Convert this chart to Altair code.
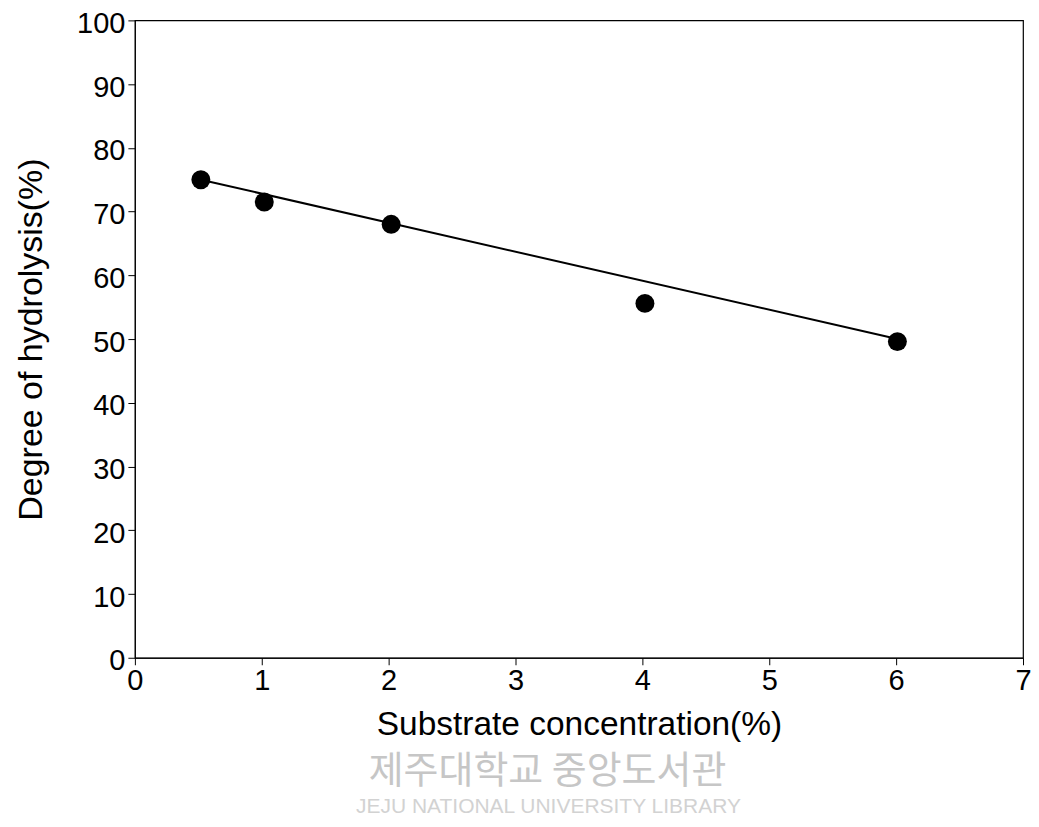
import altair as alt
import pandas as pd

substrate = [0.52, 1.02, 2.02, 4.02, 6.01]
hydrolysis = [75.0, 71.5, 68.0, 55.6, 49.6]
fit_x = [0.52, 6.01]
fit_y = [75.0, 50.0]

pts = pd.DataFrame({"x": substrate, "y": hydrolysis})
fit = pd.DataFrame({"x": fit_x, "y": fit_y})

FONT = "Liberation Sans"

xs = alt.Scale(domain=[0, 7], nice=False)
ys = alt.Scale(domain=[0, 100], nice=False)

xax = alt.Axis(title="Substrate concentration(%)", values=[0, 1, 2, 3, 4, 5, 6, 7], format="d",
               grid=False, tickSize=7, labelFontSize=29, titleFontSize=33.5,
               labelColor="black", titleColor="black", domainColor="black", tickColor="black",
               labelFont=FONT, titleFont=FONT, titleFontWeight="normal", labelPadding=2, titlePadding=13,
               labelFlush=False)
yax = alt.Axis(title="Degree of hydrolysis(%)", values=list(range(0, 101, 10)), format="d",
               grid=False, tickSize=7, labelFontSize=29, titleFontSize=34,
               labelColor="black", titleColor="black", domainColor="black", tickColor="black",
               labelFont=FONT, titleFont=FONT, titleFontWeight="normal", labelPadding=3, titlePadding=28,
               labelFlush=False, labelOffset=3)

line = alt.Chart(fit).mark_line(color="black", strokeWidth=2).encode(
    x=alt.X("x:Q", scale=xs, axis=xax),
    y=alt.Y("y:Q", scale=ys, axis=yax),
)
points = alt.Chart(pts).mark_point(filled=True, color="black", opacity=1, size=360).encode(
    x=alt.X("x:Q", scale=xs),
    y=alt.Y("y:Q", scale=ys),
)

wm1 = alt.Chart(pd.DataFrame({"t": ["제주대학교 중앙도서관"]})).mark_text(
    font="Noto Sans CJK KR", fontSize=38, color="#c6c6c6", align="center", baseline="middle"
).encode(text="t:N", x=alt.value(413), y=alt.value(752))
wm2 = alt.Chart(pd.DataFrame({"t": ["JEJU NATIONAL UNIVERSITY  LIBRARY"]})).mark_text(
    font=FONT, fontSize=21, color="#d2d2d2", align="center", baseline="middle"
).encode(text="t:N", x=alt.value(414), y=alt.value(787))

chart = alt.layer(line, points, wm1, wm2).properties(
    width=889, height=638,
    autosize=alt.AutoSizeParams(type="none"),
    padding={"left": 127, "top": 12, "right": 8, "bottom": 160},
).configure_view(stroke="black", strokeWidth=1.2)

chart.save("out.html", embed_options={"renderer": "svg", "actions": False})
